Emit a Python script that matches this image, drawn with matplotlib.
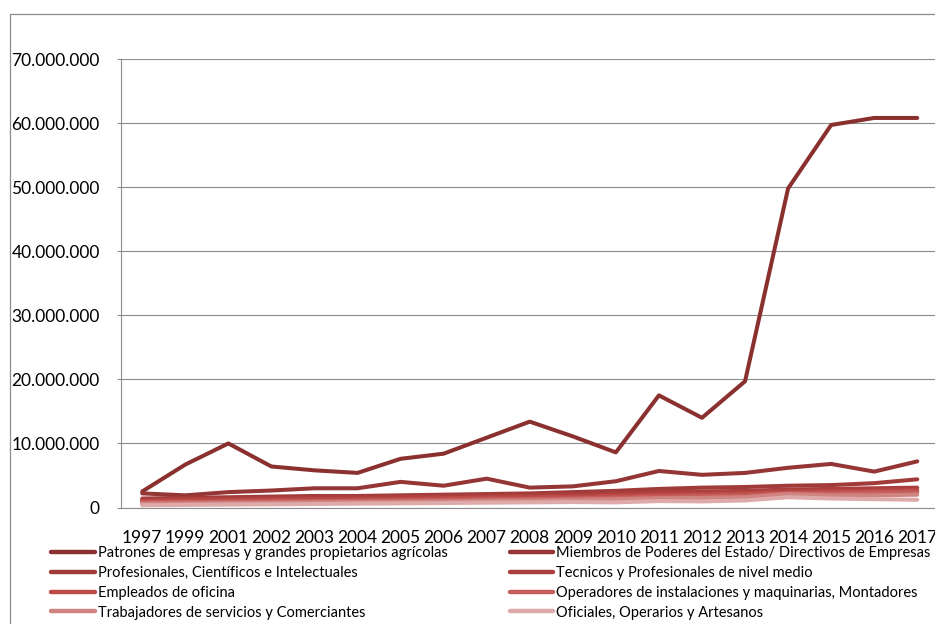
import matplotlib
matplotlib.use("Agg")
import matplotlib.pyplot as plt
from matplotlib.ticker import FuncFormatter, MultipleLocator
from matplotlib.patches import Rectangle

plt.rcParams['font.family'] = ['Lato', 'DejaVu Sans']

years = ["1997", "1999", "2001", "2002", "2003", "2004", "2005", "2006", "2007",
         "2008", "2009", "2010", "2011", "2012", "2013", "2014", "2015", "2016", "2017"]

series_names = [
    "Patrones de empresas y grandes propietarios agrícolas",
    "Miembros de Poderes del Estado/ Directivos de Empresas",
    "Profesionales, Científicos e Intelectuales",
    "Tecnicos y Profesionales de nivel medio",
    "Empleados de oficina",
    "Operadores de instalaciones y maquinarias, Montadores",
    "Trabajadores de servicios y Comerciantes",
    "Oficiales, Operarios y Artesanos",
]

patrones = [2.5e6, 6.7e6, 10.0e6, 6.4e6, 5.8e6, 5.4e6, 7.6e6, 8.4e6, 10.9e6, 13.4e6,
            11.1e6, 8.6e6, 17.5e6, 14.0e6, 19.7e6, 49.8e6, 59.7e6, 60.8e6, 60.8e6]
miembros = [2.2e6, 1.9e6, 2.4e6, 2.65e6, 3.0e6, 3.0e6, 4.0e6, 3.4e6, 4.5e6, 3.1e6,
            3.3e6, 4.1e6, 5.7e6, 5.1e6, 5.4e6, 6.2e6, 6.8e6, 5.6e6, 7.2e6]
profesionales = [1.4e6, 1.5e6, 1.6e6, 1.7e6, 1.8e6, 1.8e6, 1.9e6, 2.0e6, 2.1e6, 2.2e6,
                 2.4e6, 2.6e6, 2.9e6, 3.1e6, 3.2e6, 3.4e6, 3.5e6, 3.8e6, 4.4e6]
tecnicos = [1.2e6, 1.3e6, 1.4e6, 1.5e6, 1.55e6, 1.6e6, 1.65e6, 1.75e6, 1.85e6, 1.9e6,
            2.0e6, 2.2e6, 2.4e6, 2.5e6, 2.6e6, 2.8e6, 2.9e6, 3.0e6, 3.1e6]
empleados = [1.0e6, 1.1e6, 1.15e6, 1.2e6, 1.25e6, 1.3e6, 1.35e6, 1.45e6, 1.55e6, 1.6e6,
             1.7e6, 1.85e6, 2.0e6, 2.1e6, 2.2e6, 2.4e6, 2.5e6, 2.6e6, 2.7e6]
operadores = [0.8e6, 0.85e6, 0.9e6, 0.95e6, 1.0e6, 1.05e6, 1.1e6, 1.2e6, 1.3e6, 1.35e6,
              1.45e6, 1.55e6, 1.7e6, 1.8e6, 1.9e6, 2.2e6, 2.2e6, 2.3e6, 2.4e6]
trabajadores = [0.6e6, 0.65e6, 0.7e6, 0.75e6, 0.8e6, 0.85e6, 0.9e6, 0.95e6, 1.05e6, 1.1e6,
                1.2e6, 1.3e6, 1.45e6, 1.5e6, 1.6e6, 2.1e6, 1.9e6, 1.9e6, 2.0e6]
oficiales = [0.35e6, 0.4e6, 0.45e6, 0.5e6, 0.55e6, 0.6e6, 0.65e6, 0.7e6, 0.75e6, 0.8e6,
             0.85e6, 0.8e6, 1.0e6, 0.95e6, 1.1e6, 1.6e6, 1.4e6, 1.3e6, 1.2e6]

all_series = [patrones, miembros, profesionales, tecnicos, empleados,
              operadores, trabajadores, oficiales]
colors = ["#8A3130", "#943635", "#A03B39", "#AA3F3D", "#BC4A47", "#C65F5C", "#D08482", "#DDAAA9"]

W, H = 935, 624
fig = plt.figure(figsize=(W / 100, H / 100), dpi=100)

# outer chart border
fig.patches.append(Rectangle((9.5 / W, -0.2), 2.0, (1 - 14 / H) + 0.2,
                             transform=fig.transFigure, fill=False,
                             edgecolor="#8C8C8C", linewidth=0.9, zorder=0))

left = 120.7 / W
right = 938.8 / W
top = 1 - 59 / H
bottom = 1 - 507.5 / H
ax = fig.add_axes([left, bottom, right - left, top - bottom])

x = list(range(len(years)))
for name, vals, c in zip(series_names, all_series, colors):
    ax.plot(x, vals, color=c, lw=2.9, solid_capstyle="round",
            solid_joinstyle="round", label=name, clip_on=False)

ax.set_xlim(-0.5, len(years) - 0.5)
ax.set_ylim(0, 70e6)
ax.yaxis.set_major_locator(MultipleLocator(10e6))
ax.yaxis.set_major_formatter(FuncFormatter(lambda v, p: f"{int(round(v)):,}".replace(",", ".")))
ax.set_xticks(x)
ax.set_xticklabels(years)
ax.grid(axis="y", color="#8C8C8C", lw=0.8)
ax.set_axisbelow(True)
for s in ["top", "right"]:
    ax.spines[s].set_visible(False)
for s in ["left", "bottom"]:
    ax.spines[s].set_color("#8C8C8C")
    ax.spines[s].set_linewidth(0.8)

ax.tick_params(axis="y", length=3, color="#8C8C8C", pad=12, labelsize=12.5)
ax.tick_params(axis="x", length=0, pad=16, labelsize=12.5)

handles, labels = ax.get_legend_handles_labels()
# legend fills row by row in the reference: reorder for column-major filling
order = [0, 2, 4, 6, 1, 3, 5, 7]
leg = fig.legend([handles[i] for i in order], [labels[i] for i in order],
                 ncol=2, loc="upper left",
                 bbox_to_anchor=(51 / W, 1 - 546 / H), frameon=False,
                 fontsize=10.5, handlelength=3.0, handletextpad=0.2,
                 columnspacing=4.25, labelspacing=0.4, borderpad=0,
                 borderaxespad=0)
for ln in leg.get_lines():
    ln.set_linewidth(3.2)

fig.savefig("out.png", dpi=100)
